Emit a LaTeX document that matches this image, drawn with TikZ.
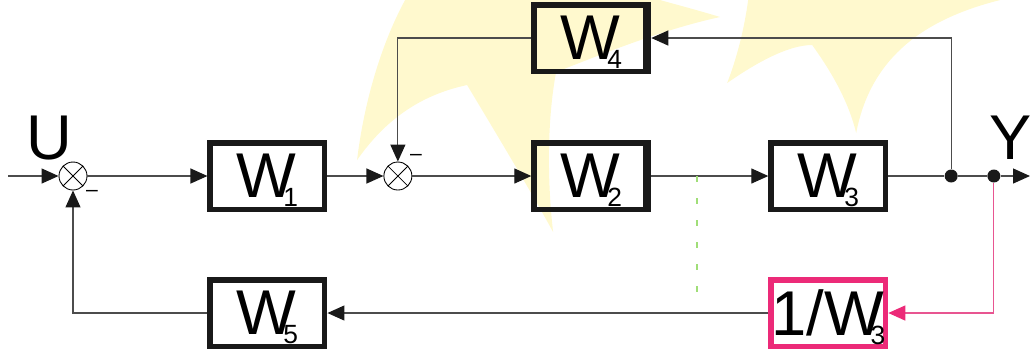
\documentclass[tikz,border=0pt]{standalone}
\usepackage{fontspec}
\setmainfont{Liberation Sans}
\usepackage{tikz}
\usetikzlibrary{arrows.meta,positioning,calc}

\definecolor{sunyellow}{RGB}{255,249,206}
\definecolor{pinkbox}{RGB}{236,42,120}
\definecolor{pinkline}{RGB}{232,85,145}
\definecolor{movegreen}{RGB}{160,222,120}

% W with a lowered index that runs into the letter
\newcommand{\Wsub}[1]{W\kern-7.5pt\raisebox{-5pt}[0pt][0pt]{\fontsize{15}{15}\selectfont #1}}

\begin{document}
\begin{tikzpicture}[
  block/.style={rectangle, draw=#1, line width=0.11cm, minimum width=2.29cm,
                minimum height=1.33cm, inner sep=0pt, font=\fontsize{36}{36}\selectfont},
  block/.default={black!90},
  sumnode/.style={circle, draw, line width=0.5pt, minimum size=0.56cm, inner sep=0pt,
                  path picture={\draw[line width=0.5pt]
                    (path picture bounding box.north west) -- (path picture bounding box.south east)
                    (path picture bounding box.north east) -- (path picture bounding box.south west);}},
  dot/.style={circle, fill=black!90, minimum size=0.26cm, inner sep=0pt},
  bigtext/.style={font=\fontsize{36}{36}\selectfont, inner sep=0pt},
  minus/.style={font=\fontsize{12}{12}\selectfont, inner sep=0pt},
  line/.style={line width=0.7pt, color=black!70},
  arrow/.style={line, -{Triangle[length=0.34cm, width=0.3cm, color=black!90]}},
  pinkarrow/.style={line width=0.7pt, color=pinkline, -{Triangle[length=0.34cm, width=0.3cm, color=pinkbox]}},
  movedash/.style={line width=1.2pt, color=movegreen, dash pattern=on 0.12cm off 0.32cm}
]
  \useasboundingbox (0,0) rectangle (20.64,-7);

  % pale sun in the background
  \begin{scope}[x=0.02cm, y=-0.02cm]
    \fill[sunyellow] (405,0) .. controls (378,50) and (363,110) .. (357,160)
      .. controls (385,120) and (420,95) .. (467,85)
      .. controls (500,140) and (530,190) .. (553,232)
      .. controls (547,180) and (547,120) .. (556,72)
      .. controls (600,55) and (660,30) .. (720,17)
      .. controls (690,8) and (670,3) .. (660,0) -- cycle;
    \fill[sunyellow] (748,0) .. controls (744,30) and (736,60) .. (727,83)
      .. controls (760,60) and (790,45) .. (812,45)
      .. controls (830,70) and (848,100) .. (856,133)
      .. controls (870,60) and (920,20) .. (1000,0) -- cycle;
  \end{scope}

  \coordinate (in) at (0.16,-3.52);
  \node[sumnode] (sum1) at (1.46,-3.52) {};
  \node[block, right=2.4cm of sum1] (w1) {\Wsub{1}};
  \node[sumnode, right=1.12cm of w1] (sum2) {};
  \node[block, right=2.38cm of sum2] (w2) {\Wsub{2}};
  \node[block, right=2.34cm of w2] (w3) {\Wsub{3}};
  \node[dot, right=1.12cm of w3] (dot1) {};
  \node[dot, right=0.58cm of dot1] (dot2) {};
  \coordinate (out) at (20.6,-3.52);
  \node[block, above=1.32cm of w2] (w4) {\Wsub{4}};
  \node[block, below=1.3cm of w1] (w5) {\Wsub{5}};
  \node[block=pinkbox, below=1.3cm of w3] (w3inv) {1/\Wsub{3}};

  \node[bigtext] (ulabel) at (0.98,-2.76) {U};
  \node[bigtext] (ylabel) at (20.22,-2.76) {Y};
  \node[minus] (minus1) at (1.84,-3.86) {–};
  \node[minus] (minus2) at (8.32,-3.14) {–};

  % heavier right edges
  \foreach \b in {w2,w4}
    \draw[line width=0.06cm, black!90] ([xshift=-0.14cm]\b.north east) -- ([xshift=-0.14cm]\b.south east);

  \draw[arrow] (in) -- (sum1);
  \draw[arrow] (sum1) -- (w1);
  \draw[arrow] (w1) -- (sum2);
  \draw[arrow] (sum2) -- (w2);
  \draw[arrow] (w2) -- (w3);
  \draw[line] (w3) -- (dot1) -- (dot2);
  \draw[arrow] (dot2) -- (out);
  \draw[arrow] (dot1) |- (w4);
  \draw[arrow] (w4) -| (sum2);
  \draw[pinkarrow] (dot2) |- (w3inv);
  \draw[arrow] (w3inv) -- (w5);
  \draw[arrow] (w5) -| (sum1);

  \coordinate (split) at ($(w2.east)!0.39!(w3.west)$);
  \coordinate (splitend) at ([yshift=-2.44cm]split);
  \draw[movedash] (split) -- (splitend);
\end{tikzpicture}
\end{document}
